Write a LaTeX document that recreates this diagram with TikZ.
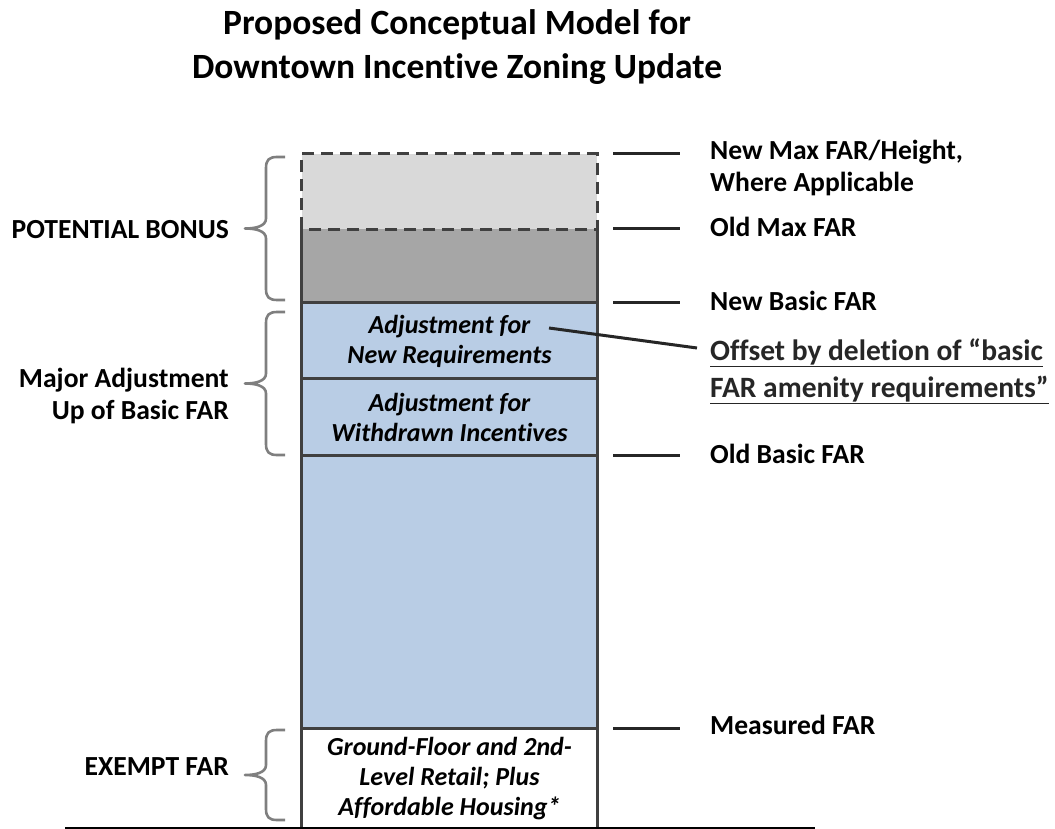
\documentclass[tikz,border=0pt]{standalone}
\usepackage{fontspec}
\setmainfont{Carlito}[Ligatures=NoCommon]
\definecolor{bonusnew}{HTML}{D9D9D9}
\definecolor{bonusold}{HTML}{A6A6A6}
\definecolor{basefill}{HTML}{B9CDE5}
\definecolor{framec}{HTML}{404040}
\definecolor{bracec}{HTML}{7F7F7F}
\definecolor{tickc}{HTML}{262626}
\newcommand\sidebrace[3]{% x of ends, top y, bottom y
  \draw[fbrace] (#1,#2) -- ++(-8,0) .. controls ++(-8,0) and ++(0,-8) .. ++(-11,11)
    -- (#1-19,{(#2+#3)/2-10}) .. controls ++(0,8) and ++(10,0) .. (#1-40,{(#2+#3)/2})
    .. controls ++(10,0) and ++(0,-8) .. (#1-19,{(#2+#3)/2+10})
    -- (#1-19,#3-11) .. controls ++(0,8) and ++(-8,0) .. (#1-8,#3) -- (#1,#3);}
\tikzset{
  seg/.style={rectangle,inner sep=0pt,minimum width=295pt,align=center,
    font=\fontsize{26}{30}\selectfont\bfseries\itshape},
  frame/.style={draw=framec,line width=3pt},
  tick/.style={draw=tickc,line width=3pt},
  fbrace/.style={draw=bracec,line width=2.6pt,line join=round},
  rlab/.style={anchor=west,inner sep=0pt,align=left,font=\fontsize{27.6}{32}\selectfont\bfseries},
  llab/.style={anchor=east,inner sep=0pt,align=right,font=\fontsize{27.6}{32}\selectfont\bfseries}
}
\begin{document}
\begin{tikzpicture}[x=1pt,y=-1pt]%FAR column
\useasboundingbox (0,0) rectangle (1055,829);
\node[align=center,font=\fontsize{35.5}{44}\selectfont\bfseries] (title) at (457,47)
  {Proposed Conceptual Model for\\Downtown Incentive Zoning Update};
\node[seg,fill=bonusnew,minimum height=75pt] (newmax) at (449.5,191.5) {};
\node[seg,fill=bonusold,minimum height=74pt] (oldmax) at (449.5,266) {};
\node[seg,fill=basefill,minimum height=76pt] (newreq) at (449.5,341) {Adjustment for\\New Requirements};
\node[seg,fill=basefill,minimum height=77pt] (withdrawn) at (449.5,417.5) {Adjustment for\\Withdrawn Incentives};
\node[seg,fill=basefill,minimum height=272pt] (base) at (449.5,592) {};
\node[seg,fill=white,minimum height=101pt] (exempt) at (449.5,779) {Ground-Floor and 2nd-\\Level Retail; Plus\\Affordable Housing*};
\draw[frame] (oldmax.north west) -- (exempt.south west);
\draw[frame] (oldmax.north east) -- (exempt.south east);
\foreach \n in {newreq,withdrawn,base,exempt}
  \draw[frame] (\n.north west) -- (\n.north east);
\draw[frame,dash pattern=on 12pt off 7pt] (newmax.south west) rectangle (newmax.north east);
\draw[black,line width=1.5pt] (65,828) -- (815,828);
% right side
\foreach \n in {newmax,oldmax,newreq,base,exempt}
  \draw[tick] ([xshift=16pt]\n.north east) -- +(67,0);
\node[rlab] (newmax-l) at (710,168) {New Max FAR/Height,\\Where Applicable};
\node[rlab] (oldmax-l) at (710,227) {Old Max FAR};
\node[rlab] (newbasic-l) at (710,301) {New Basic FAR};
\node[rlab] (oldbasic-l) at (710,454) {Old Basic FAR};
\node[rlab] (measured-l) at (710,725) {Measured FAR};
\node[rlab,text=tickc,font=\fontsize{29.5}{37}\selectfont\bfseries] (offset) at (710,371)
  {\underline{Offset by deletion of “basic}\\\underline{FAR amenity requirements”}};
\coordinate (newreq-pt) at (549,328);
\coordinate (offset-pt) at (697,348);
\draw[tick] (newreq-pt) -- (offset-pt);
% left side
\sidebrace{285}{157}{300}
\sidebrace{285}{312}{455}
\sidebrace{285}{730}{820}
\node[llab] (bonus-l) at (229,230) {POTENTIAL BONUS};
\node[llab] (major-l) at (229,396) {Major Adjustment\\Up of Basic FAR};
\node[llab] (exempt-l) at (229,767) {EXEMPT FAR};
\end{tikzpicture}
\end{document}
